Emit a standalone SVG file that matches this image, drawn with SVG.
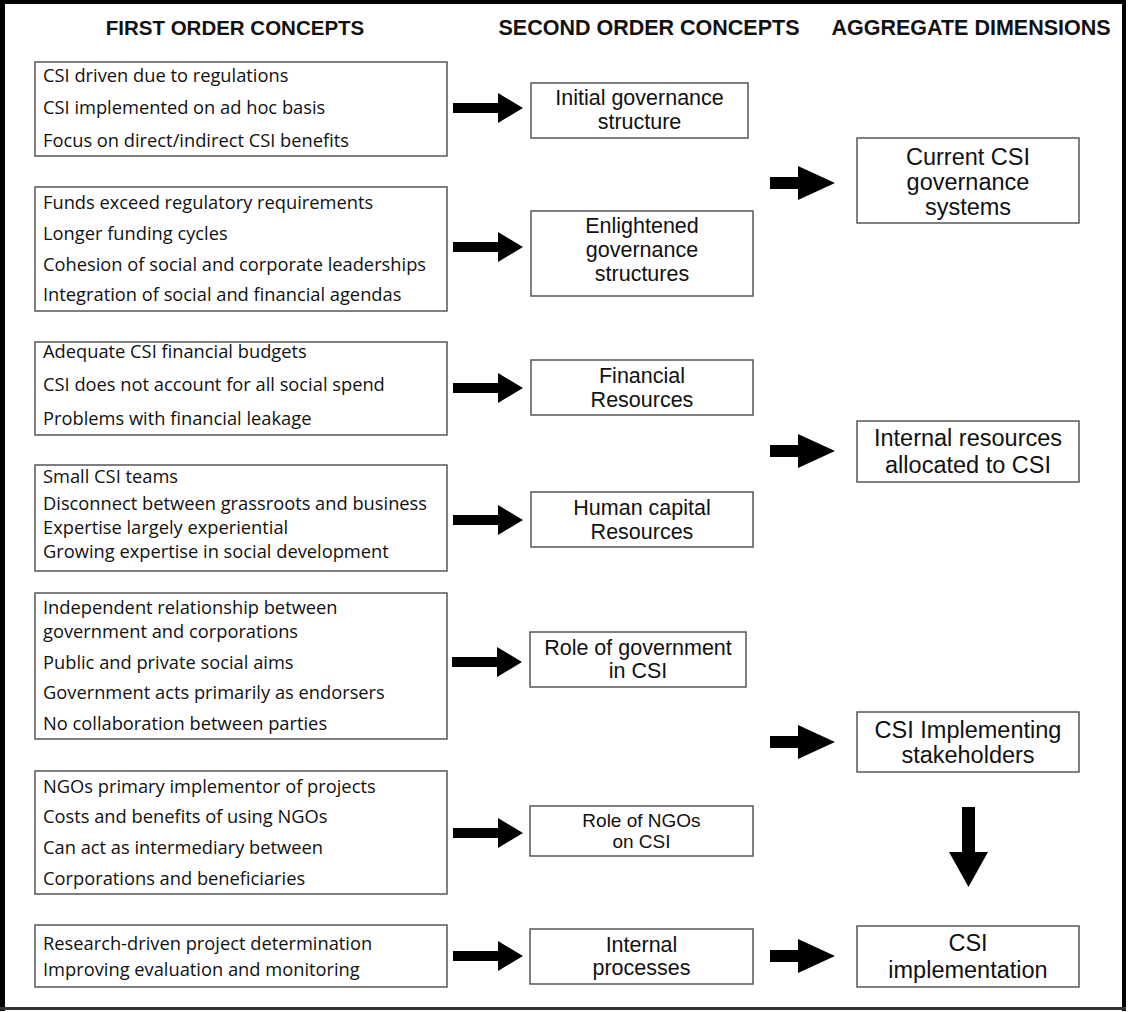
<svg xmlns="http://www.w3.org/2000/svg" width="1129" height="1012" viewBox="0 0 1129 1012">
  <style>
    .hdr { font-family: "Liberation Sans", Arial, sans-serif; font-weight: bold; font-size: 21.5px; fill: #111; text-anchor: middle; }
    .hdr-first { font-size: 20.5px; }
    .box { fill: #fff; stroke: #555; stroke-width: 1.5; }
    .fo { font-family: "Open Sans", "Noto Sans", sans-serif; font-size: 18.3px; fill: #111; }
    .so { font-family: "Liberation Sans", Arial, sans-serif; font-size: 21.5px; fill: #111; text-anchor: middle; }
    .so-small { font-size: 19px; }
    .ag { font-family: "Liberation Sans", Arial, sans-serif; font-size: 23.5px; fill: #111; text-anchor: middle; }
    .arrow { fill: #000; }
  </style>
  <defs>
    <!-- short block arrow: shaft then triangular head, tip at origin's right -->
    <path id="arrowSmall" d="M0,-5 H45 V-15 L70,0 L45,15 V5 H0 Z"/>
    <path id="arrowBig" d="M0,-6 H28 V-17 L65,0 L28,17 V6 H0 Z"/>
  </defs>

  <rect x="0" y="0" width="1129" height="1012" fill="#fff"/>

  <!-- outer frame -->
  <g id="frame">
    <rect x="0" y="0" width="5" height="1011" fill="#000"/>
    <rect x="0" y="0" width="1126" height="4" fill="#000"/>
    <rect x="1122" y="0" width="4" height="1011" fill="#000"/>
    <rect x="0" y="1007" width="1126" height="3" fill="#333"/>
  </g>

  <!-- column headings -->
  <g id="headings">
    <text class="hdr hdr-first" x="235" y="35">FIRST ORDER CONCEPTS</text>
    <text class="hdr" x="649" y="35">SECOND ORDER CONCEPTS</text>
    <text class="hdr" x="971" y="35">AGGREGATE DIMENSIONS</text>
  </g>

  <!-- first order concepts -->
  <g id="fo-regulation">
    <rect class="box" x="35" y="62" width="412" height="94"/>
    <text class="fo" x="43" y="82">CSI driven due to regulations</text>
    <text class="fo" x="43" y="114">CSI implemented on ad hoc basis</text>
    <text class="fo" x="43" y="147">Focus on direct/indirect CSI benefits</text>
  </g>
  <g id="fo-funding">
    <rect class="box" x="35" y="187" width="412" height="124"/>
    <text class="fo" x="43" y="209">Funds exceed regulatory requirements</text>
    <text class="fo" x="43" y="240">Longer funding cycles</text>
    <text class="fo" x="43" y="271">Cohesion of social and corporate leaderships</text>
    <text class="fo" x="43" y="301">Integration of social and financial agendas</text>
  </g>
  <g id="fo-budgets">
    <rect class="box" x="35" y="342" width="412" height="93"/>
    <text class="fo" x="43" y="358">Adequate CSI financial budgets</text>
    <text class="fo" x="43" y="391">CSI does not account for all social spend</text>
    <text class="fo" x="43" y="425">Problems with financial leakage</text>
  </g>
  <g id="fo-teams">
    <rect class="box" x="35" y="465" width="412" height="106"/>
    <text class="fo" x="43" y="483">Small CSI teams</text>
    <text class="fo" x="43" y="510">Disconnect between grassroots and business</text>
    <text class="fo" x="43" y="534">Expertise largely experiential</text>
    <text class="fo" x="43" y="558">Growing expertise in social development</text>
  </g>
  <g id="fo-government">
    <rect class="box" x="35" y="593" width="412" height="146"/>
    <text class="fo" x="43" y="614">Independent relationship between</text>
    <text class="fo" x="43" y="638">government and corporations</text>
    <text class="fo" x="43" y="669">Public and private social aims</text>
    <text class="fo" x="43" y="699">Government acts primarily as endorsers</text>
    <text class="fo" x="43" y="730">No collaboration between parties</text>
  </g>
  <g id="fo-ngos">
    <rect class="box" x="35" y="771" width="412" height="123"/>
    <text class="fo" x="43" y="793">NGOs primary implementor of projects</text>
    <text class="fo" x="43" y="823">Costs and benefits of using NGOs</text>
    <text class="fo" x="43" y="854">Can act as intermediary between</text>
    <text class="fo" x="43" y="885">Corporations and beneficiaries</text>
  </g>
  <g id="fo-research">
    <rect class="box" x="35" y="925" width="412" height="62"/>
    <text class="fo" x="43" y="950">Research-driven project determination</text>
    <text class="fo" x="43" y="976">Improving evaluation and monitoring</text>
  </g>

  <!-- second order concepts -->
  <g id="so-initial">
    <rect class="box" x="531" y="83" width="217" height="55"/>
    <text class="so" x="639.5" y="105">Initial governance</text>
    <text class="so" x="639.5" y="129">structure</text>
  </g>
  <g id="so-enlightened">
    <rect class="box" x="531" y="211" width="222" height="85"/>
    <text class="so" x="642" y="233">Enlightened</text>
    <text class="so" x="642" y="257">governance</text>
    <text class="so" x="642" y="281">structures</text>
  </g>
  <g id="so-financial">
    <rect class="box" x="531" y="360" width="222" height="55"/>
    <text class="so" x="642" y="383">Financial</text>
    <text class="so" x="642" y="407">Resources</text>
  </g>
  <g id="so-human">
    <rect class="box" x="531" y="492" width="222" height="55"/>
    <text class="so" x="642" y="515">Human capital</text>
    <text class="so" x="642" y="539">Resources</text>
  </g>
  <g id="so-government">
    <rect class="box" x="530" y="632" width="216" height="55"/>
    <text class="so" x="638" y="655">Role of government</text>
    <text class="so" x="638" y="678">in CSI</text>
  </g>
  <g id="so-ngos">
    <rect class="box" x="530" y="806" width="223" height="50"/>
    <text class="so so-small" x="641.5" y="827">Role of NGOs</text>
    <text class="so so-small" x="641.5" y="848">on CSI</text>
  </g>
  <g id="so-processes">
    <rect class="box" x="530" y="929" width="223" height="55"/>
    <text class="so" x="641.5" y="952">Internal</text>
    <text class="so" x="641.5" y="975">processes</text>
  </g>

  <!-- aggregate dimensions -->
  <g id="ag-governance">
    <rect class="box" x="857" y="138" width="222" height="85"/>
    <text class="ag" x="968" y="165">Current CSI</text>
    <text class="ag" x="968" y="190">governance</text>
    <text class="ag" x="968" y="215">systems</text>
  </g>
  <g id="ag-resources">
    <rect class="box" x="857" y="421" width="222" height="61"/>
    <text class="ag" x="968" y="446">Internal resources</text>
    <text class="ag" x="968" y="473">allocated to CSI</text>
  </g>
  <g id="ag-stakeholders">
    <rect class="box" x="857" y="712" width="222" height="60"/>
    <text class="ag" x="968" y="738">CSI Implementing</text>
    <text class="ag" x="968" y="763">stakeholders</text>
  </g>
  <g id="ag-implementation">
    <rect class="box" x="857" y="926" width="222" height="61"/>
    <text class="ag" x="968" y="951">CSI</text>
    <text class="ag" x="968" y="978">implementation</text>
  </g>

  <!-- connectors -->
  <g id="connectors" class="arrow">
    <use href="#arrowSmall" x="453" y="108"/>
    <use href="#arrowSmall" x="453" y="247"/>
    <use href="#arrowSmall" x="453" y="388"/>
    <use href="#arrowSmall" x="453" y="520"/>
    <use href="#arrowSmall" x="452" y="662"/>
    <use href="#arrowSmall" x="453" y="833"/>
    <use href="#arrowSmall" x="453" y="956"/>
    <use href="#arrowBig" x="770" y="183"/>
    <use href="#arrowBig" x="770" y="451"/>
    <use href="#arrowBig" x="770" y="742"/>
    <use href="#arrowBig" x="770" y="956"/>
    <path d="M962,807 H975 V852 H988 L968.5,887 L949,852 H962 Z"/>
  </g>
</svg>
